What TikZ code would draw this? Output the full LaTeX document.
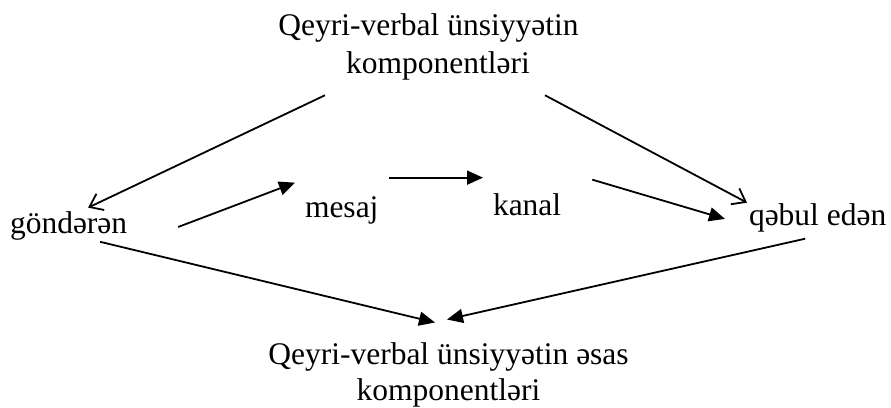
\documentclass[tikz,border=0pt]{standalone}
\usepackage{fontspec}
\setmainfont{Liberation Serif}
\usetikzlibrary{arrows.meta}

\tikzset{
	word/.style={inner sep=0pt, outer sep=0pt, font=\fontsize{31.5}{38}\selectfont},
	link/.style={line width=1.8pt},
	openarrow/.style={link, -{Straight Barb[length=12pt,width=18pt]}},
	fillarrow/.style={link, -{Triangle[length=16pt,width=14pt]}}
}

\begin{document}
\begin{tikzpicture}[x=1pt, y=-1pt]
		%%%%% START %%%%%
		
		\fill[white] (0, 0) rectangle (891, 407);
		\useasboundingbox (0, 0) rectangle (891, 407);
		
		\node[word, align=center, anchor=north] (top) at (428.5, 13.5)
			{Qeyri-verbal ünsiyyətin\\\hspace*{0.6em}komponentləri};
		\node[word, font=\fontsize{31.5}{36}\selectfont, align=center, anchor=north] (bottom) at (448.5, 343)
			{Qeyri-verbal ünsiyyətin əsas\\komponentləri};
		
		\node[word, anchor=base west] (sender) at (10, 233) {göndərən};
		\node[word, anchor=base west] (message) at (305, 217) {mesaj};
		\node[word, anchor=base west] (channel) at (493, 215) {kanal};
		\node[word, anchor=base west] (receiver) at (749, 225) {qəbul edən};
		
		\draw[openarrow] ([shift={(-103.5, 15.2)}]top.south) -- ([shift={(19.5, -3.5)}]sender.north);
		\draw[openarrow] ([shift={(116.5, 15.2)}]top.south) -- ([shift={(-2, -0.5)}]receiver.north west);
		
		\draw[fillarrow] ([shift={(51, 1.5)}]sender.east) -- ([shift={(-10, -13.5)}]message.north west);
		\draw[fillarrow, shorten >=10pt] ([shift={(10.5, -18.5)}]message.north east) coordinate (m)
			-- (m -| channel.west);
		\draw[fillarrow] ([shift={(31, -13.5)}]channel.north east) -- ([shift={(-24, 1.5)}]receiver.west);
		
		\draw[fillarrow] ([shift={(31.5, 2)}]sender.south) -- ([shift={(-13.5, -20.5)}]bottom.north);
		\draw[fillarrow] ([shift={(-12.5, 7)}]receiver.south) -- ([shift={(-1.5, -23.5)}]bottom.north);
		
		%%%%% END %%%%%
	\end{tikzpicture}
\end{document}
